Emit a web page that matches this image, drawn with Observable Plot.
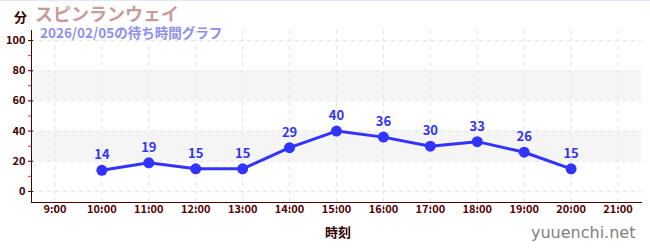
<!DOCTYPE html>
<html><head><meta charset="utf-8">
<script src="https://cdn.jsdelivr.net/npm/d3@7"></script>
<script src="https://cdn.jsdelivr.net/npm/@observablehq/plot@0.6"></script>
<style>
html,body{margin:0;padding:0;background:#fff;}
#wrap{position:relative;width:650px;height:250px;overflow:hidden;border-top:1px solid #e6e6fa;box-sizing:border-box;}
.t{position:absolute;white-space:nowrap;font-family:"Noto Sans CJK JP","Noto Sans",sans-serif;line-height:1;}
</style></head>
<body><div id="wrap"></div>
<script>
const title = "スピンランウェイ";
const subtitle = "2026/02/05の待ち時間グラフ";
const yUnit = "分";
const xLabel = "時刻";
const site = "yuuenchi.net";
const times = ["10:00","11:00","12:00","13:00","14:00","15:00","16:00","17:00","18:00","19:00","20:00"];
const waits = [14,19,15,15,29,40,36,30,33,26,15];
const hourTicks = [9,10,11,12,13,14,15,16,17,18,19,20,21];
const yMajor = [0,20,40,60,80,100];
const yMinor = [10,30,50,70,90];
const bandLow = [20,60];
const bandHigh = [40,80];

const toH = s => { const [h,m] = s.split(":").map(Number); return h + m/60; };
const data = times.map((t,i) => ({x: toH(t), y: waits[i]}));
const bands = bandLow.map((v,i) => ({y1: v, y2: bandHigh[i]}));
const fmt = h => `${Math.floor(h)}:${String(Math.round((h%1)*60)).padStart(2,"0")}`;

const font = '"Noto Sans CJK JP","Noto Sans",sans-serif';
const chart = Plot.plot({
  width: 650, height: 249,
  marginLeft: 31, marginRight: 9, marginTop: 29, marginBottom: 48,
  style: {fontFamily: font, fontSize: "11px", background: "transparent", overflow: "visible"},
  x: {type: "linear", domain: [8.5, 21.5], axis: null},
  y: {domain: [-7.33, 106.67], axis: null},
  marks: [
    Plot.rect(bands, {y1: "y1", y2: "y2", fill: "#f5f5f5"}),
    Plot.gridX(hourTicks, {stroke: "#e4e4e4", strokeOpacity: 1, strokeDasharray: "4,4"}),
    Plot.gridY(yMajor, {stroke: "#e4e4e4", strokeOpacity: 1, strokeDasharray: "4,4"}),
    Plot.axisY(yMinor, {tickSize: 3, text: null, label: null, stroke: "#dd3333", strokeOpacity: 1}),
    Plot.axisY(yMajor, {tickSize: 5, dx: 2, text: null, label: null, stroke: "#330000", strokeOpacity: 1}),
    Plot.axisY(yMajor, {tickSize: 0, tickPadding: 6, label: null, fontWeight: "bold", fill: "#440000", fontSize: 11}),
    Plot.frame({anchor: "left", stroke: "#550000", strokeOpacity: 1}),
    Plot.frame({anchor: "bottom", stroke: "#550000", strokeOpacity: 1}),
    Plot.axisX(hourTicks, {tickSize: 6, dy: 3, text: null, label: null, stroke: "#777", strokeOpacity: 1, anchor: "bottom"}),
    Plot.axisX(hourTicks, {tickSize: 0, tickPadding: 3, tickFormat: fmt, fontWeight: "bold", fill: "#550000", fontSize: 11, anchor: "bottom", label: null}),
    Plot.line(data, {x: "x", y: "y", stroke: "#3333ff", strokeWidth: 3}),
    Plot.dot(data, {x: "x", y: "y", r: 5.5, fill: "#3333ff"}),
    Plot.text(data, {x: "x", y: "y", text: d => String(d.y), dy: -15, fill: "#3333ee", fontWeight: "bold", fontSize: 13})
  ]
});
chart.style.position = "absolute";
chart.style.left = "0px";
chart.style.top = "0px";
const wrap = document.getElementById("wrap");
wrap.appendChild(chart);
function addText(txt, css){
  const d = document.createElement("div");
  d.className = "t"; d.textContent = txt;
  Object.assign(d.style, css);
  wrap.appendChild(d);
}
addText(yUnit, {left: "14px", top: "9px", fontSize: "13px", fontWeight: "bold", color: "#330000"});
addText(title, {left: "35px", top: "3px", fontSize: "18px", fontWeight: "bold", color: "#c99a9a"});
addText(subtitle, {left: "40px", top: "25px", fontSize: "13.5px", fontWeight: "600", color: "#8f8fee"});
addText(xLabel, {left: "325px", top: "224px", fontSize: "13px", fontWeight: "bold", color: "#330000"});
addText(site, {left: "531px", top: "224px", fontSize: "16px", color: "#808080", fontFamily: '"DejaVu Sans",sans-serif'});
</script></body></html>
